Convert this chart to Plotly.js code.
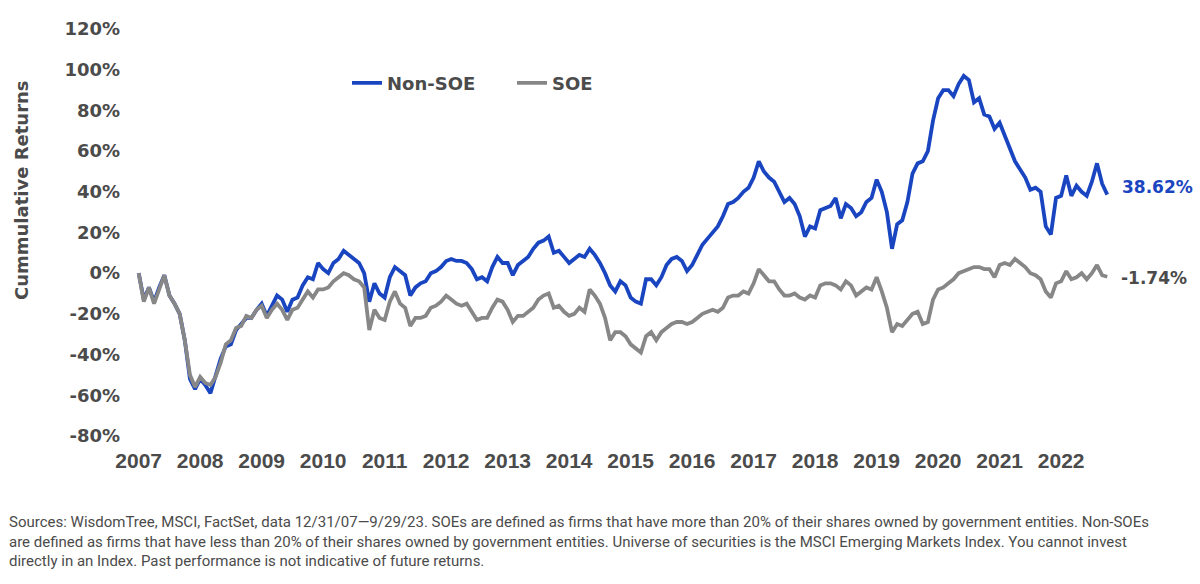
<!DOCTYPE html>
<html>
<head>
<meta charset="utf-8">
<script src="https://cdn.plot.ly/plotly-3.0.1.min.js"></script>
<style>
  html, body { margin: 0; padding: 0; background: #fff; }
  #graphDiv { width: 1200px; height: 584px; }
</style>
</head>
<body>
<div id="graphDiv"></div>
<script>
// Cumulative returns, monthly from 12/31/07 to 9/29/23 (in %)
let nonSoe = [
    0, -13, -7, -14, -7, -1, -11, -15, -20, -33,
    -52, -57, -52, -55, -59, -50, -42, -36, -35, -28,
    -25, -22, -22, -18, -15, -21, -16, -11, -13, -19,
    -13, -12, -6, -2, -3, 5, 2, 0, 5, 7,
    11, 9, 7, 5, 0, -14, -5, -10, -12, -2,
    3, 1, -1, -11, -7, -5, -4, 0, 1, 3,
    6, 7, 6, 6, 5, 2, -3, -2, -4, 3,
    8, 5, 5, -1, 4, 6, 8, 12, 15, 16,
    18, 10, 11, 8, 5, 7, 9, 8, 12, 9,
    5, 0, -6, -9, -4, -6, -12, -14, -15, -3,
    -3, -6, -2, 4, 7, 8, 6, 1, 4, 9,
    14, 17, 20, 23, 28, 34, 35, 37, 40, 42,
    47, 55, 50, 47, 45, 40, 35, 37, 34, 28,
    18, 23, 22, 31, 32, 33, 37, 27, 34, 32,
    28, 30, 35, 37, 46, 40, 30, 12, 24, 26,
    35, 49, 54, 55, 60, 75, 86, 90, 90, 87,
    93, 97, 95, 84, 86, 78, 77, 71, 74, 68,
    62, 55, 51, 47, 41, 42, 40, 23, 19, 37,
    38, 48, 38, 43, 40, 38, 45, 54, 44, 38.62
];
let soe = [
    0, -14, -7, -15, -8, -1, -11, -15, -20, -33,
    -50, -56, -51, -54, -55, -51, -44, -35, -33, -27,
    -26, -21, -22, -18, -16, -22, -18, -15, -18, -23,
    -18, -17, -13, -9, -12, -8, -8, -7, -4, -2,
    0, -1, -3, -4, -7, -28, -18, -22, -23, -14,
    -9, -15, -17, -26, -22, -22, -21, -17, -16, -14,
    -11, -13, -15, -16, -15, -19, -23, -22, -22, -17,
    -13, -14, -18, -24, -21, -21, -19, -17, -13, -11,
    -10, -17, -16, -19, -21, -20, -17, -19, -8, -11,
    -15, -22, -33, -29, -29, -31, -35, -37, -39, -31,
    -29, -33, -29, -27, -25, -24, -24, -25, -24, -22,
    -20, -19, -18, -19, -17, -12, -11, -11, -9, -10,
    -5, 2, -1, -4, -4, -8, -11, -11, -10, -12,
    -13, -11, -12, -6, -5, -5, -6, -8, -4, -6,
    -11, -9, -7, -8, -2, -9, -17, -29, -25, -26,
    -23, -20, -19, -25, -24, -13, -8, -7, -5, -3,
    0, 1, 2, 3, 3, 2, 2, -2, 4, 5,
    4, 7, 5, 3, 0, -1, -3, -9, -12, -5,
    -4, 1, -3, -2, 0, -3, 0, 4, -1, -1.74
];
let yearLabels = ['2007', '2008', '2009', '2010', '2011', '2012', '2013', '2014',
                  '2015', '2016', '2017', '2018', '2019', '2020', '2021', '2022'];
let yTicks = [-80, -60, -40, -20, 0, 20, 40, 60, 80, 100, 120];

let footnote = 'Sources: WisdomTree, MSCI, FactSet, data 12/31/07\u20149/29/23. SOEs are defined as firms that have more than 20% of their shares owned by government entities. Non-SOEs<br>' +
    'are defined as firms that have less than 20% of their shares owned by government entities. Universe of securities is the MSCI Emerging Markets Index. You cannot invest<br>' +
    'directly in an Index. Past performance is not indicative of future returns.';

const BLUE = '#1a45c0';
const GREY = '#878787';
const TEXT = '#4b4b4b';

function makePlot() {
    let graphDiv = document.getElementById('graphDiv');

    // month index for x, one tick per year
    let months = nonSoe.map((v, i) => i);
    let tickVals = yearLabels.map((y, i) => i * 12);
    let last = months.length - 1;

    let data = [{
        x: months, y: nonSoe, name: 'Non-SOE',
        type: 'scatter', mode: 'lines',
        line: {color: BLUE, width: 3.8}
    }, {
        x: months, y: soe, name: 'SOE',
        type: 'scatter', mode: 'lines',
        line: {color: GREY, width: 3.8}
    }];

    let layout = {
        width: 1200, height: 584,
        margin: {l: 131, r: 62, t: 21, b: 140},
        paper_bgcolor: '#fff', plot_bgcolor: '#fff',
        showlegend: true,
        legend: {
            orientation: 'h', x: 0.2145, xanchor: 'left', y: 0.853, yanchor: 'middle',
            font: {family: 'DejaVu Sans', size: 18, weight: 'bold', color: TEXT},
            entrywidth: 120, entrywidthmode: 'pixels',
            bgcolor: 'rgba(0,0,0,0)'
        },
        xaxis: {
            range: [-1.5, 195],
            tickvals: tickVals, ticktext: yearLabels,
            showgrid: false, zeroline: false, showline: false, ticks: '',
            tickfont: {family: 'Liberation Sans', size: 21, weight: 'bold', color: TEXT},
            ticklabelstandoff: 2
        },
        yaxis: {
            range: [-84, 124],
            tickvals: yTicks, ticktext: yTicks.map(v => v + '%'),
            showgrid: false, zeroline: false, showline: false, ticks: '',
            tickfont: {family: 'DejaVu Sans', size: 18, weight: 'bold', color: TEXT},
            ticklabelstandoff: 10
        },
        annotations: [{
            // axis title placed by hand, it sits above the plot centre
            text: 'Cummulative Returns', textangle: -90,
            xref: 'paper', yref: 'paper',
            x: (21 - 131) / 1007, y: (444 - 190) / 423,
            xanchor: 'center', yanchor: 'middle', showarrow: false,
            font: {family: 'DejaVu Sans', size: 18, weight: 'bold', color: TEXT}
        }, {
            text: nonSoe[last].toFixed(2) + '%',
            x: last, y: nonSoe[last], xref: 'x', yref: 'y',
            xanchor: 'left', yanchor: 'middle', xshift: 13, yshift: 8,
            showarrow: false,
            font: {family: 'DejaVu Sans', size: 17, weight: 'bold', color: BLUE}
        }, {
            text: soe[last].toFixed(2) + '%',
            x: last, y: soe[last], xref: 'x', yref: 'y',
            xanchor: 'left', yanchor: 'middle', xshift: 12, yshift: -1,
            showarrow: false,
            font: {family: 'DejaVu Sans', size: 17, weight: 'bold', color: TEXT}
        }, {
            text: footnote, align: 'left',
            xref: 'paper', yref: 'paper',
            x: (7 - 131) / 1007, y: (444 - 511) / 423,
            xanchor: 'left', yanchor: 'top', showarrow: false,
            font: {family: 'Roboto', size: 15, color: TEXT}
        }]
    };

    Plotly.newPlot(graphDiv, data, layout, {displayModeBar: false, staticPlot: true});
}

makePlot();
</script>
</body>
</html>
